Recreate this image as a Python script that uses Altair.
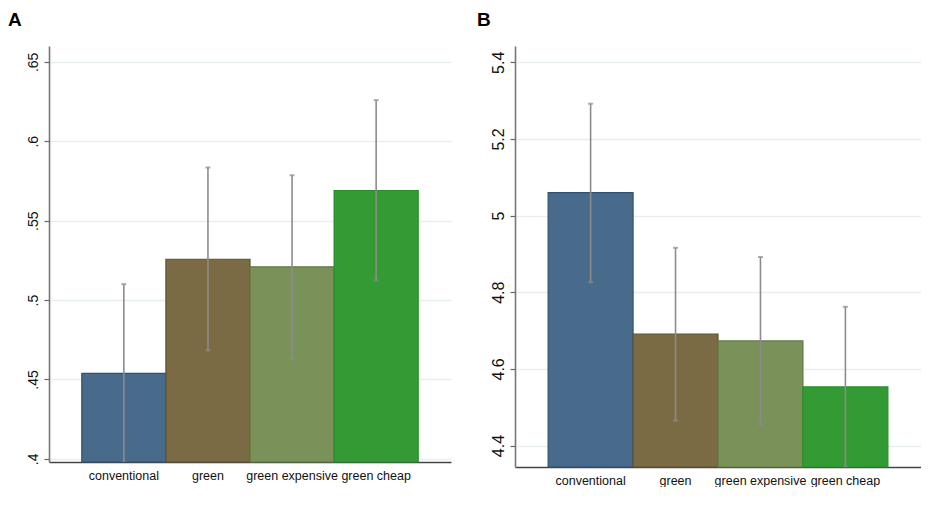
import altair as alt
import pandas as pd

categories = ["conventional", "green", "green expensive", "green cheap"]
colors = ["#486a8b", "#7b6b45", "#7a9259", "#349a34"]
outlines = ["#2f5273", "#5f5230", "#617a43", "#23902a"]

a_mean = [0.4538, 0.5257, 0.5209, 0.5690]
a_low = [0.3976, 0.4683, 0.4626, 0.5124]
a_high = [0.5100, 0.5835, 0.5786, 0.6259]
a_ticks = [0.4, 0.45, 0.5, 0.55, 0.6, 0.65]
a_domain = [0.398, 0.660]

b_mean = [5.060, 4.6905, 4.673, 4.553]
b_low = [4.826, 4.465, 4.455, 4.344]
b_high = [5.292, 4.916, 4.892, 4.762]
b_ticks = [4.4, 4.6, 4.8, 5.0, 5.2, 5.4]
b_domain = [4.344, 5.4425]

LABEL_FONT = "Liberation Sans, Arial, sans-serif"
TICK_FONT = "Liberation Sans, Arial, sans-serif"


def panel(title, mean, low, high, ticks, domain, label_expr, width, height, tick_size, title_dx):
    df = pd.DataFrame({
        "cat": categories,
        "mean": mean,
        "low": low,
        "high": high,
        "base": [domain[0]] * len(categories),
        "fill": colors,
        "stroke": outlines,
    })
    xenc = alt.X(
        "cat:N",
        sort=categories,
        scale=alt.Scale(paddingInner=0, paddingOuter=0.39),
        axis=alt.Axis(
            title=None, labelAngle=0, ticks=False, domainColor="#444444", domainWidth=1.6,
            labelFont=LABEL_FONT, labelFontSize=12.5, labelColor="#111111", labelPadding=7,
            grid=False,
        ),
    )
    yscale = alt.Scale(domain=domain, nice=False, zero=False)
    base = alt.Chart(df)
    bars = base.mark_bar(strokeWidth=1.2).encode(
        x=xenc,
        y=alt.Y(
            "mean:Q",
            scale=yscale,
            axis=alt.Axis(
                title=None, values=ticks, labelExpr=label_expr, labelAngle=270,
                labelAlign="center", labelBaseline="bottom", labelFont=TICK_FONT,
                labelFontSize=tick_size, labelColor="#111111", labelPadding=4,
                tickSize=5, tickColor="#666666", tickWidth=1.2,
                domainColor="#777777", domainWidth=1.6,
                grid=True, gridColor="#e6eef1", gridWidth=1.5,
            ),
        ),
        y2="base:Q",
        color=alt.Color("fill:N", scale=None),
        stroke=alt.Stroke("stroke:N", scale=None),
    )
    rules = base.mark_rule(strokeWidth=1.6, color="#8c8c8c", clip=True).encode(
        x=alt.X("cat:N", sort=categories),
        y=alt.Y("low:Q", scale=yscale),
        y2="high:Q",
    )
    cap_hi = base.mark_tick(orient="horizontal", size=5, thickness=2, color="#8c8c8c", clip=True).encode(
        x=alt.X("cat:N", sort=categories),
        y=alt.Y("high:Q", scale=yscale),
    )
    cap_lo = base.mark_tick(orient="horizontal", size=5, thickness=2, color="#8c8c8c", clip=True).encode(
        x=alt.X("cat:N", sort=categories),
        y=alt.Y("low:Q", scale=yscale),
    )
    return alt.layer(bars, rules, cap_hi, cap_lo).properties(
        width=width,
        height=height,
        view=alt.ViewBackground(stroke="transparent", strokeWidth=0),
        title=alt.TitleParams(
            title, anchor="start", frame="group", fontSize=19, fontWeight="bold",
            font="Liberation Sans, Arial, sans-serif", color="#000000",
            dx=title_dx, offset=16,
        ),
    )


chart_a = panel("A", a_mean, a_low, a_high, a_ticks, a_domain,
                "replace(format(datum.value, '.2~f'), /^0/, '')", 402, 416, 14, -41)
chart_b = panel("B", b_mean, b_low, b_high, b_ticks, b_domain,
                "format(datum.value, '.1~f')", 406, 421, 16, -38)

chart = alt.hconcat(chart_a, chart_b, spacing=26).properties(
    padding={"top": 3, "left": 0, "right": 0, "bottom": 0},
).configure_view(stroke="transparent", strokeWidth=0).configure(background="white")

chart.save("out.html", embed_options={"renderer": "svg", "actions": False})
